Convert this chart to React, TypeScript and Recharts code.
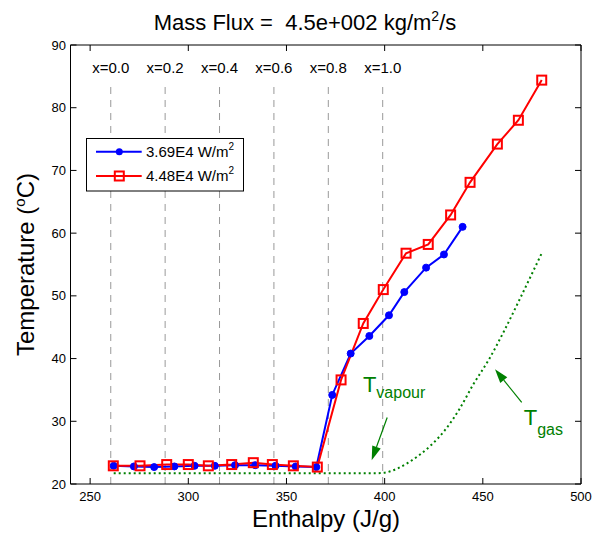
import React from "react";
import { LineChart, Line, XAxis, YAxis, ReferenceLine } from "recharts";

const xTicks = [250, 300, 350, 400, 450, 500];
const yTicks = [20, 30, 40, 50, 60, 70, 80, 90];

// 3.69E4 W/m2
const blueH = [262, 272.3, 282.6, 292.9, 303.2, 313.5, 323.8, 334.1, 344.4, 354.7, 365.2, 373.3, 382.7, 392.2, 402.2, 410.0, 421.1, 430.2, 439.7];
const blueT = [22.9, 22.8, 22.7, 22.8, 22.9, 22.9, 23.0, 23.0, 22.9, 22.8, 22.7, 34.2, 40.8, 43.6, 46.9, 50.6, 54.5, 56.6, 61.0];

// 4.48E4 W/m2
const redH = [261.8, 275.4, 289.0, 300.0, 310.2, 322.1, 333.1, 342.8, 353.5, 365.7, 377.8, 389.1, 399.3, 410.9, 422.2, 433.6, 443.5, 457.4, 468.1, 480.0];
const redT = [22.9, 22.9, 23.1, 23.1, 22.9, 23.1, 23.4, 23.1, 22.9, 22.7, 36.6, 45.6, 51.0, 56.8, 58.2, 62.9, 68.1, 74.2, 78.0, 84.4];

// T gas (dotted)
const gasH = [262, 300, 350, 395, 400, 406, 412, 418, 424, 431, 438, 445, 453, 461, 469, 480];
const gasT = [21.7, 21.7, 21.7, 21.7, 21.8, 22.4, 23.4, 24.7, 26.3, 28.7, 31.9, 35.8, 39.8, 44.5, 49.6, 56.8];

// vapour quality markers
const qualityLabels = ["x=0.0", "x=0.2", "x=0.4", "x=0.6", "x=0.8", "x=1.0"];
const qualityH = [260.5, 288.2, 315.9, 343.6, 371.3, 399.0];
const qualityTop = 83.6;

const toRows = (h: number[], t: number[]) => h.map((v, i) => ({ h: v, t: t[i] }));
const blueData = toRows(blueH, blueT);
const redData = toRows(redH, redT);
const gasData = toRows(gasH, gasT);

const FONT = '"Liberation Sans", Arial, Helvetica, sans-serif';
const GREEN = "#008000";

const noTick = () => <g />;

function QualityLine(props: any) {
  const { x1, y1, x2, y2, text } = props;
  const top = Math.min(y1, y2);
  return (
    <g>
      <line x1={x1} y1={y1} x2={x2} y2={y2} stroke="#999" strokeWidth={1} strokeDasharray="7 6" />
      <text x={x1} y={top - 12.5} textAnchor="middle" fontSize={15} fill="#000">
        {text}
      </text>
    </g>
  );
}

function Arrow(props: any) {
  const { x1, y1, x2, y2, label, sub, dx, dy, subDy } = props;
  const ang = Math.atan2(y2 - y1, x2 - x1);
  const len = 14;
  const w = 4.5;
  const bx = x2 - len * Math.cos(ang);
  const by = y2 - len * Math.sin(ang);
  const px = -Math.sin(ang) * w;
  const py = Math.cos(ang) * w;
  return (
    <g>
      <line x1={x1} y1={y1} x2={bx} y2={by} stroke={GREEN} strokeWidth={1.2} />
      <polygon points={`${x2},${y2} ${bx + px},${by + py} ${bx - px},${by - py}`} fill={GREEN} />
      <text x={x1 + dx} y={y1 + dy} fill={GREEN} fontSize={22}>
        T
        <tspan fontSize={16} dy={subDy}>
          {sub}
        </tspan>
      </text>
    </g>
  );
}

function Square(props: any) {
  const { cx, cy, index } = props;
  if (cx == null || cy == null) return <g key={`sq-${index}`} />;
  return (
    <rect key={`sq-${index}`} x={cx - 4.5} y={cy - 4.5} width={9} height={9} fill="none" stroke="#ff0000" strokeWidth={2} />
  );
}

export default function App() {
  return (
    <div style={{ position: "absolute", left: 0, top: 0, width: 606, height: 533, background: "#fff", fontFamily: FONT }}>
      <LineChart width={606} height={533} margin={{ top: 0, right: 0, bottom: 0, left: 0 }}>
        <XAxis
          xAxisId="b"
          type="number"
          dataKey="h"
          domain={[240, 500]}
          ticks={xTicks}
          allowDataOverflow
          height={49}
          tickSize={-6}
          tickMargin={14}
          stroke="#000"
          tick={{ fontSize: 13, fill: "#000" }}
        />
        <XAxis
          xAxisId="t"
          orientation="top"
          type="number"
          dataKey="h"
          domain={[240, 500]}
          ticks={xTicks}
          allowDataOverflow
          height={45}
          tickSize={-6}
          stroke="#000"
          tick={noTick}
        />
        <YAxis
          yAxisId="l"
          type="number"
          domain={[20, 90]}
          ticks={yTicks}
          allowDataOverflow
          width={70.5}
          tickSize={-6}
          tickMargin={10.5}
          stroke="#000"
          tick={{ fontSize: 13, fill: "#000" }}
        />
        <YAxis
          yAxisId="r"
          orientation="right"
          type="number"
          domain={[20, 90]}
          ticks={yTicks}
          allowDataOverflow
          width={25}
          tickSize={-6}
          stroke="#000"
          tick={noTick}
        />

        {qualityH.map((h, i) => (
          <ReferenceLine
            key={qualityLabels[i]}
            xAxisId="b"
            yAxisId="l"
            segment={[{ x: h, y: 20 }, { x: h, y: qualityTop }]}
            shape={(p: any) => <QualityLine {...p} text={qualityLabels[i]} />}
          />
        ))}

        <Line
          xAxisId="b"
          yAxisId="l"
          data={gasData}
          dataKey="t"
          type="monotone"
          stroke={GREEN}
          strokeWidth={2}
          strokeDasharray="2 3"
          dot={false}
          isAnimationActive={false}
        />
        <Line
          xAxisId="b"
          yAxisId="l"
          data={blueData}
          dataKey="t"
          type="linear"
          stroke="#0000ff"
          strokeWidth={2}
          dot={{ r: 3.5, fill: "#0000ff", stroke: "#0000ff", strokeWidth: 1 }}
          isAnimationActive={false}
        />
        <Line
          xAxisId="b"
          yAxisId="l"
          data={redData}
          dataKey="t"
          type="linear"
          stroke="#ff0000"
          strokeWidth={2}
          dot={(p: any) => <Square {...p} key={`sq-${p.index}`} />}
          isAnimationActive={false}
        />

        <ReferenceLine
          xAxisId="b"
          yAxisId="l"
          segment={[{ x: 401.3, y: 30.6 }, { x: 393.4, y: 23.8 }]}
          shape={(p: any) => <Arrow {...p} sub="vapour" dx={-24.3} dy={-25.3} subDy={6} />}
        />
        <ReferenceLine
          xAxisId="b"
          yAxisId="l"
          segment={[{ x: 469.8, y: 33.0 }, { x: 456.2, y: 38.3 }]}
          shape={(p: any) => <Arrow {...p} sub="gas" dx={2} dy={23} subDy={10} />}
        />
      </LineChart>

      <svg
        width={606}
        height={533}
        style={{ position: "absolute", left: 0, top: 0, pointerEvents: "none", fontFamily: FONT }}
      >
        {/* Title */}
        <text x={305} y={30} textAnchor="middle" fontSize={22} fill="#000" style={{ whiteSpace: "pre" }}>
          {"Mass Flux =  4.5e+002 kg/m"}
          <tspan fontSize={14} dy={-9}>2</tspan>
          <tspan dy={9}>/s</tspan>
        </text>

        {/* Axis labels */}
        <text x={326} y={527} textAnchor="middle" fontSize={24} fill="#000">
          Enthalpy (J/g)
        </text>
        <text transform="rotate(-90)" x={-264.5} y={34} textAnchor="middle" fontSize={24} fill="#000">
          Temperature (
          <tspan fontSize={15} dy={-9}>o</tspan>
          <tspan dy={9}>C)</tspan>
        </text>

        {/* Legend */}
        <rect x={86.5} y={138.5} width={157} height={52.5} fill="#fff" stroke="#000" strokeWidth={1} />
        <line x1={96} x2={141.7} y1={151.7} y2={151.7} stroke="#0000ff" strokeWidth={2} />
        <circle cx={119.3} cy={151.7} r={3.5} fill="#0000ff" />
        <text x={146} y={157} fontSize={15} fill="#000">
          3.69E4 W/m
          <tspan fontSize={10} dy={-7}>2</tspan>
        </text>
        <line x1={96} x2={141.7} y1={176} y2={176} stroke="#ff0000" strokeWidth={2} />
        <rect x={114.8} y={171.5} width={9} height={9} fill="none" stroke="#ff0000" strokeWidth={2} />
        <text x={146} y={181.3} fontSize={15} fill="#000">
          4.48E4 W/m
          <tspan fontSize={10} dy={-7}>2</tspan>
        </text>
      </svg>
    </div>
  );
}
